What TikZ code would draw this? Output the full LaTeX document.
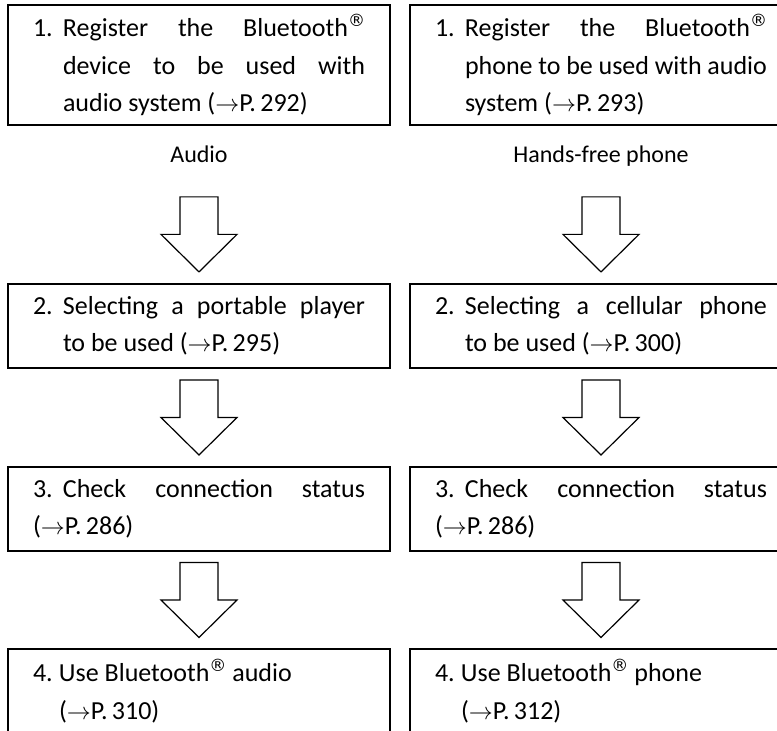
\documentclass[tikz,border=0pt]{standalone}
\usepackage{fontspec}
\setmainfont{Carlito}
\newfontfamily\regfont{DejaVu Sans}
\usetikzlibrary{positioning, calc}
\tikzset{
  stepbox/.style={
    rectangle,
    draw,
    line width=1.4pt,
    outer sep=0pt,
    inner sep=0pt,
    minimum width=191pt,
    minimum height=42pt,
    text width=166pt,
    align=justify,
    font=\fontsize{13pt}{18.75pt}\selectfont
  },
  tallbox/.style={stepbox, minimum height=60pt},
  caption/.style={
    inner xsep=0pt,
    inner ysep=8pt,
    text height=9pt,
    text depth=3pt,
    font=\fontsize{12pt}{14pt}\selectfont
  },
  hollow/.style={draw, line width=0.6pt, fill=white}
}
% step text: number box width, number, indent of the lines after it, text
\newcommand{\steptext}[4]{\noindent\hangindent=#3\hangafter=1\makebox[#1][l]{#2}#4\par}
\newcommand{\reg}{\raisebox{0.85ex}{\regfont\fontsize{8.5pt}{8.5pt}\selectfont ®}}
% big hollow arrow between two nodes
\newcommand{\flowarrow}[2]{%
  \draw[hollow] let \p1=($(#1.south)!0.5!(#2.north)$) in
    (\x1-9.5pt,\y1+18.75pt) -- (\x1+9.5pt,\y1+18.75pt) -- (\x1+9.5pt,\y1)
    -- (\x1+19pt,\y1) -- (\x1,\y1-18.75pt) -- (\x1-19pt,\y1)
    -- (\x1-9.5pt,\y1) -- cycle;}

\begin{document}
\begin{tikzpicture}
  \useasboundingbox (0,0) rectangle (388.5pt,-365.5pt);
  \clip (0,0) rectangle (388.5pt,-365.5pt);

  % step 1
  \node[tallbox, anchor=north west] (regA) at (4pt,-2.5pt)
    {\steptext{15pt}{1.}{15pt}{Register the Bluetooth\reg\linebreak device to be used with\linebreak audio system (\(\rightarrow\)P.\,292)}};
  \node[tallbox, right=10pt of regA] (regP)
    {\steptext{15pt}{1.}{15pt}{Register the Bluetooth\reg\linebreak phone to be used with audio\linebreak system (\(\rightarrow\)P.\,293)}};
  \node[caption, below=1.5pt of regA] (audio) {Audio};
  \node[caption, below=1.5pt of regP] (phone) {Hands-free phone};

  % step 2
  \node[stepbox, below=79.5pt of regA] (selA)
    {\steptext{15pt}{2.}{15pt}{Selecting a portable player\linebreak to be used (\(\rightarrow\)P.\,295)}};
  \node[stepbox, right=10pt of selA] (selP)
    {\steptext{15pt}{2.}{15pt}{Selecting a cellular phone\linebreak to be used (\(\rightarrow\)P.\,300)}};

  % step 3
  \node[stepbox, below=49.5pt of selA] (chkA)
    {\steptext{15pt}{3.}{0pt}{Check connection status\linebreak (\(\rightarrow\)P.\,286)}};
  \node[stepbox, right=10pt of chkA] (chkP)
    {\steptext{15pt}{3.}{0pt}{Check connection status\linebreak (\(\rightarrow\)P.\,286)}};

  % step 4
  \node[stepbox, below=49pt of chkA] (useA)
    {\steptext{13pt}{4.}{13pt}{Use Bluetooth\reg{} audio\\(\(\rightarrow\)P.\,310)}};
  \node[stepbox, right=10pt of useA] (useP)
    {\steptext{13pt}{4.}{13pt}{Use Bluetooth\reg{} phone\\(\(\rightarrow\)P.\,312)}};

  \flowarrow{audio}{selA}
  \flowarrow{phone}{selP}
  \flowarrow{selA}{chkA}
  \flowarrow{selP}{chkP}
  \flowarrow{chkA}{useA}
  \flowarrow{chkP}{useP}
\end{tikzpicture}
\end{document}
